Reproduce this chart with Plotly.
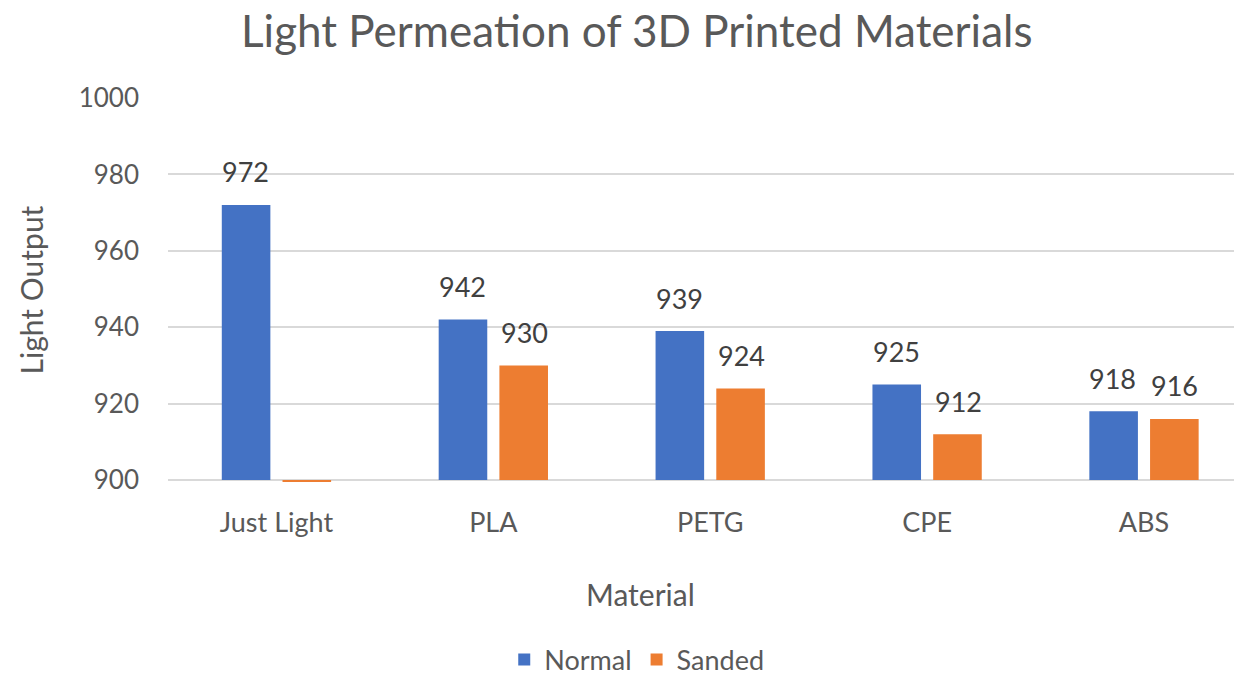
import plotly.graph_objects as go

# Light output readings per material
materials = ["Just Light", "PLA", "PETG", "CPE", "ABS"]
normal = [972, 942, 939, 925, 918]
sanded = [0, 930, 924, 912, 916]
sanded_labels = ["", "930", "924", "912", "916"]

axis_min = 900
axis_max = 1000

font_family = "Lato, 'Open Sans', sans-serif"
grey = "#595959"
label_grey = "#404040"

fig = go.Figure()
fig.add_trace(go.Bar(
    name="Normal", x=materials, y=[v - axis_min for v in normal], base=axis_min,
    marker=dict(color="#4472C4", line=dict(width=0)),
))
fig.add_trace(go.Bar(
    name="Sanded", x=materials, y=[v - axis_min for v in sanded], base=axis_min,
    marker=dict(color="#ED7D31", line=dict(width=0)),
))

# value labels floating above each bar
for series, labels, shift in ((normal, [str(v) for v in normal], -31),
                              (sanded, sanded_labels, 31)):
    for cat, val, lab in zip(materials, series, labels):
        if not lab:
            continue
        fig.add_annotation(x=cat, y=val, text=lab, showarrow=False,
                           xshift=shift, yshift=33, yanchor="middle",
                           font=dict(size=27, color=label_grey, family=font_family))

# category axis title, centred on the whole chart
fig.add_annotation(text="Material", xref="paper", yref="paper",
                   x=0.443, y=-0.2917, xanchor="center", yanchor="middle",
                   showarrow=False, font=dict(size=30, color=grey, family=font_family))

fig.update_layout(
    width=1234, height=675,
    margin=dict(l=168, r=0, t=98, b=193),
    paper_bgcolor="white", plot_bgcolor="white",
    font=dict(family=font_family, color=grey),
    title=dict(text="Light Permeation of 3D Printed Materials",
               x=0.516, xref="container", xanchor="center",
               y=1 - 32 / 675, yref="container", yanchor="middle",
               font=dict(size=44, color=grey, family=font_family)),
    barmode="group", bargap=0.44, bargroupgap=0.2,
    legend=dict(orientation="h", xref="container", yref="container",
                x=0.516, xanchor="center", y=1 - 660 / 675, yanchor="middle",
                font=dict(size=27, color=grey, family=font_family),
                itemwidth=30, traceorder="normal"),
    showlegend=True,
)
fig.update_xaxes(
    range=[-0.5, 4.415], showgrid=False, showline=False, ticks="",
    tickfont=dict(size=27, color=grey), ticklabelstandoff=22,
)
fig.update_yaxes(
    range=[axis_min - 0.5, axis_max], tickvals=[900, 920, 940, 960, 980, 1000],
    showgrid=True, gridcolor="#D9D9D9", gridwidth=1.5, zeroline=False, showline=False,
    ticks="", ticklabelstandoff=28,
    tickfont=dict(size=26, color=grey),
    title=dict(text="Light Output", font=dict(size=30, color=grey), standoff=26),
)

fig.write_html("out.html")
